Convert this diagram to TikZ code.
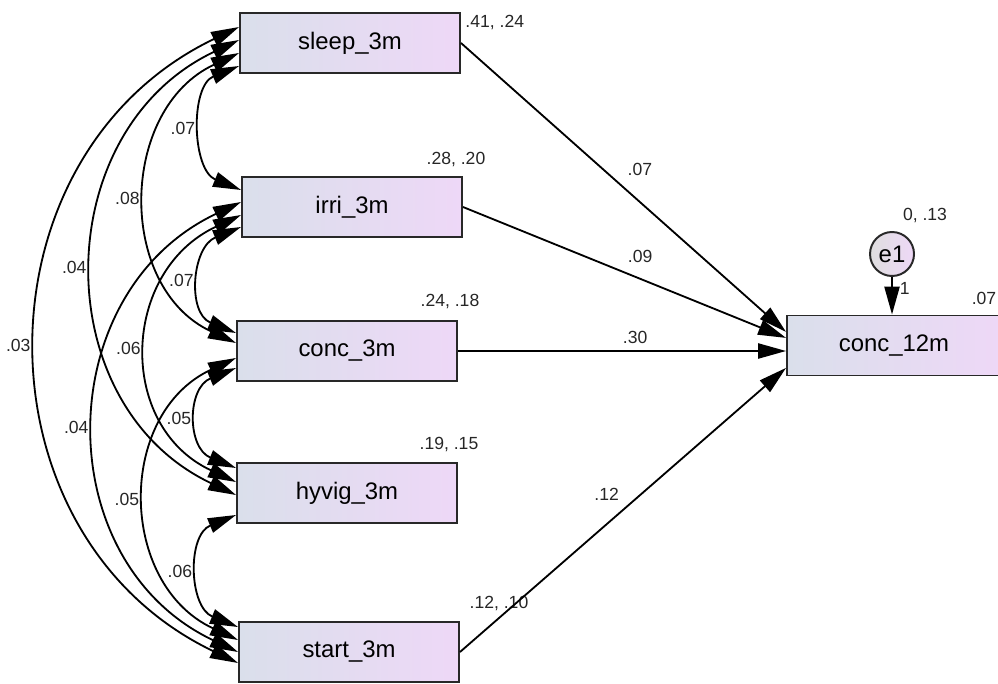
\documentclass[tikz,border=0pt]{standalone}
\usepackage{fontspec}
\setmainfont{Liberation Sans}
\usetikzlibrary{arrows.meta}
\definecolor{boxleft}{RGB}{218,223,235}
\definecolor{boxright}{RGB}{238,216,247}
\definecolor{boxline}{RGB}{40,40,40}
\tikzset{obs/.style={rectangle, draw=boxline, line width=1.4pt, minimum width=5.5cm, minimum height=1.5cm, left color=boxleft, right color=boxright, font=\fontsize{17}{20}\selectfont},
	err/.style={circle, draw=boxline, line width=1.4pt, minimum size=1.1cm, inner sep=0pt, left color=black!13, right color=boxright, font=\fontsize{17}{20}\selectfont},
	num/.style={font=\fontsize{12.5}{14}\selectfont, text=black!85, inner sep=2pt},
	reg/.style={->, line width=1.3pt},
	cov/.style={<->, line width=1.3pt}
}

\begin{document}
\begin{tikzpicture}[>={Triangle[length=7mm,width=3.8mm]}]
	\useasboundingbox (0,0) rectangle (24.95,17.075);
	\clip (0,0) rectangle (24.95,17.075);
	% observed variables
	\node[obs] (sleep) at (8.75,16.0) {sleep\_3m};
	\node[obs] (irri) at (8.8,11.9) {irri\_3m};
	\node[obs] (conc) at (8.675,8.3) {conc\_3m};
	\node[obs] (hyvig) at (8.675,4.75) {hyvig\_3m};
	\node[obs] (start) at (8.725,0.775) {start\_3m};
	\node[obs, minimum width=5.35cm] (conc12) at (22.35,8.4375) {conc\_12m};
	\node[err] (e1) at (22.3,10.725) {e1};
	% means and variances
	\node[num, anchor=north west] (sleepv) at ([xshift=1pt]sleep.north east) {.41, .24};
	\node[num] (irriv) at ([shift={(-0.175,0.425)}]irri.north east) {.28, .20};
	\node[num] (concv) at ([shift={(-0.2,0.475)}]conc.north east) {.24, .18};
	\node[num] (hyvigv) at ([shift={(-0.225,0.45)}]hyvig.north east) {.19, .15};
	\node[num] (startv) at ([shift={(0.975,0.45)}]start.north east) {.12, .10};
	\node[num] (e1v) at ([shift={(0.825,0.4)}]e1.north) {0, .13};
	\node[num] (conc12v) at ([shift={(4.95,0.4)}]conc12.north west) {.07};
	% regression paths
	\draw[reg] (sleep.east) -- ([yshift=3.4mm]conc12.west) node[num,pos=0.5,xshift=4.1mm,yshift=4.4mm] {.07};
	\draw[reg] (irri.east) -- ([yshift=1.9mm]conc12.west) node[num,pos=0.5,xshift=3.9mm,yshift=3.9mm] {.09};
	\draw[reg] (conc.east) -- (conc12.west |- conc.east) node[num,pos=0.5,xshift=3.3mm,yshift=3.5mm] {.30};
	\draw[reg] (start.east) -- ([yshift=-5.6mm]conc12.west) node[num,pos=0.5,xshift=-4.1mm,yshift=4mm] {.12};
	\draw[reg] (e1) -- (e1 |- conc12.north) node[num,pos=0.3,right=3pt] {1};
	% covariances
	\draw[cov] ([yshift=-5.75mm]sleep.west) .. controls +(-1.23,-0.5) and +(-1.23,0.5) .. ([yshift=4.25mm]irri.west) node[num,pos=0.5,left=3pt] {.07};
	\draw[cov] ([yshift=-2.5mm]sleep.west) .. controls +(-3,-1.4) and +(-3,1.4) .. ([yshift=2mm]conc.west) node[num,pos=0.5,left=3pt] {.08};
	\draw[cov] ([yshift=0.75mm]sleep.west) .. controls +(-4.77,-2.26) and +(-4.77,2.26) .. ([yshift=-0.5mm]hyvig.west) node[num,pos=0.5,left=3pt] {.04};
	\draw[cov] ([yshift=4mm]sleep.west) .. controls +(-6.67,-3.2) and +(-6.67,3.2) .. ([yshift=-2.75mm]start.west) node[num,pos=0.5,left=3pt] {.03};
	\draw[cov] ([yshift=-5mm]irri.west) .. controls +(-1.23,-0.5) and +(-1.23,0.5) .. ([yshift=4.5mm]conc.west) node[num,pos=0.5,left=3pt] {.07};
	\draw[cov] ([yshift=-2mm]irri.west) .. controls +(-3,-1.4) and +(-3,1.4) .. ([yshift=2.75mm]hyvig.west) node[num,pos=0.5,left=3pt] {.06};
	\draw[cov] ([yshift=1.25mm]irri.west) .. controls +(-4.77,-2.26) and +(-4.77,2.26) .. (start.west) node[num,pos=0.5,left=3pt] {.04};
	\draw[cov] ([yshift=-4.25mm]conc.west) .. controls +(-1.23,-0.5) and +(-1.23,0.5) .. ([yshift=6.25mm]hyvig.west) node[num,pos=0.5,left=3pt] {.05};
	\draw[cov] ([yshift=-1.75mm]conc.west) .. controls +(-3,-1.4) and +(-3,1.4) .. ([yshift=3mm]start.west) node[num,pos=0.5,left=3pt] {.05};
	\draw[cov] ([yshift=-5.5mm]hyvig.west) .. controls +(-1.23,-0.5) and +(-1.23,0.5) .. ([yshift=6.25mm]start.west) node[num,pos=0.5,left=3pt] {.06};
\end{tikzpicture}
\end{document}
